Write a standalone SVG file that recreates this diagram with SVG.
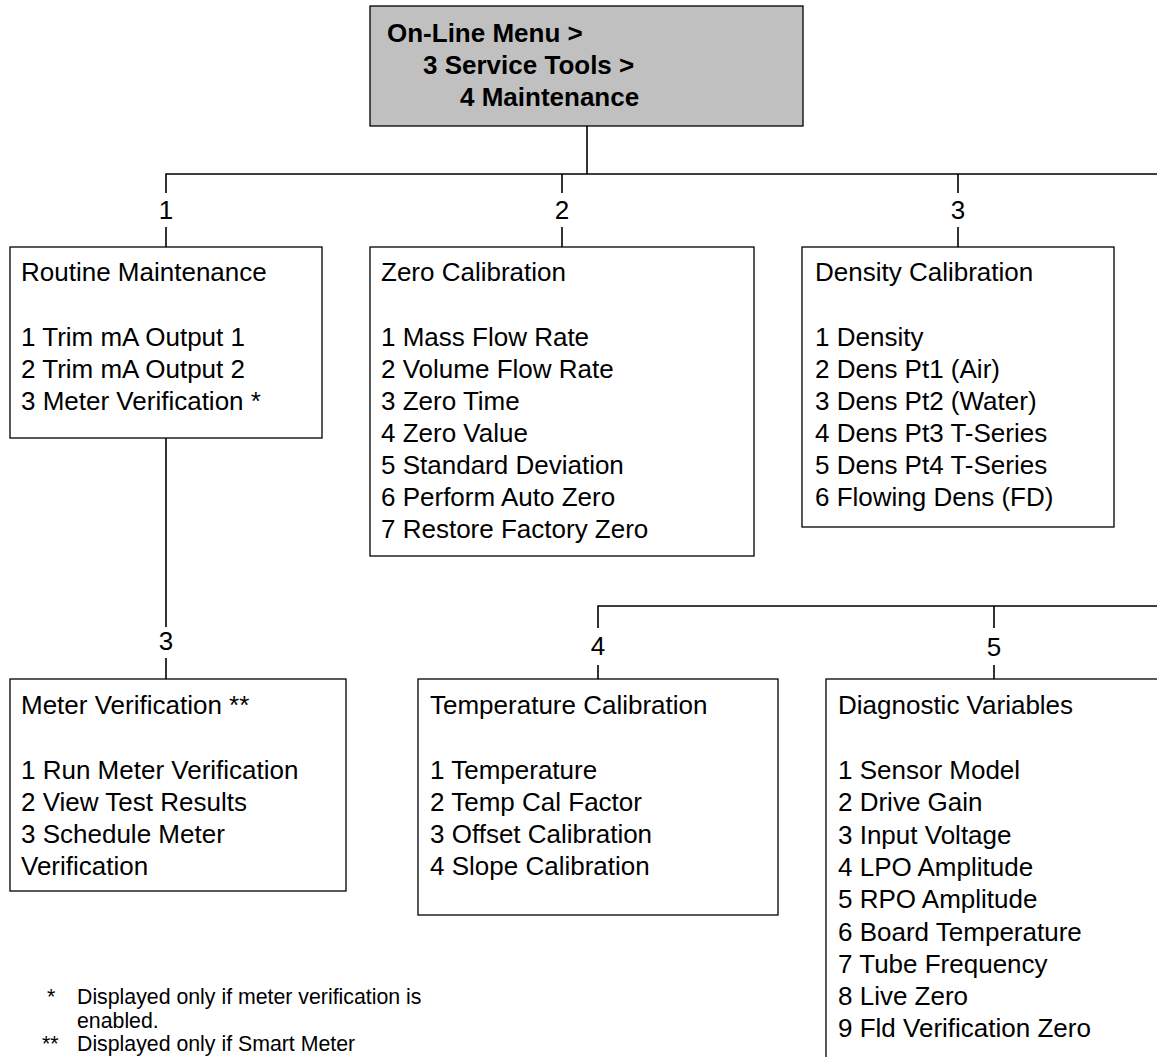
<svg xmlns="http://www.w3.org/2000/svg" width="1157" height="1057" viewBox="0 0 1157 1057">
<style>
.box{fill:#fff;stroke:#000;stroke-width:1.3}
.hdr{fill:#c0c0c0;stroke:#000;stroke-width:1.3}
.t{font-family:"Liberation Sans",Arial,sans-serif;font-size:26px;fill:#000}
.b{font-family:"Liberation Sans",Arial,sans-serif;font-size:26px;font-weight:bold;fill:#000}
.lbl{font-family:"Liberation Sans",Arial,sans-serif;font-size:26px;fill:#000;text-anchor:middle}
.fn{font-family:"Liberation Sans",Arial,sans-serif;font-size:21.3px;fill:#000}
.c{fill:none;stroke:#000;stroke-width:1.6}
</style>
<rect width="1157" height="1057" fill="#fff"/>
<g id="connectors">
<path class="c" d="M587 126V174M166 193V174H1160M562 174V193M958 174V193M166 227V247M562 227V247M958 227V247"/>
<path class="c" d="M166 438V627M166 658V679"/>
<path class="c" d="M598 628V606H1160M994 606V628M598 665V679M994 665V679"/>
<text class="lbl" x="166" y="218.5">1</text>
<text class="lbl" x="562" y="218.5">2</text>
<text class="lbl" x="958" y="218.5">3</text>
<text class="lbl" x="166" y="650">3</text>
<text class="lbl" x="598" y="655">4</text>
<text class="lbl" x="994" y="656">5</text>
</g>
<g id="maintenance">
<rect class="hdr" x="370" y="6" width="433" height="120"/>
<text class="b" x="387" y="42">On-Line Menu &gt;</text>
<text class="b" x="423" y="74">3 Service Tools &gt;</text>
<text class="b" x="460" y="106">4 Maintenance</text>
</g>
<g id="routine">
<rect class="box" x="10" y="247" width="312" height="191"/>
<text class="t" x="21" y="281">Routine Maintenance</text>
<text class="t" x="21" y="346">1 Trim mA Output 1</text>
<text class="t" x="21" y="378">2 Trim mA Output 2</text>
<text class="t" x="21" y="410">3 Meter Verification *</text>
</g>
<g id="zero">
<rect class="box" x="370" y="247" width="384" height="309"/>
<text class="t" x="381" y="281">Zero Calibration</text>
<text class="t" x="381" y="346">1 Mass Flow Rate</text>
<text class="t" x="381" y="378">2 Volume Flow Rate</text>
<text class="t" x="381" y="410">3 Zero Time</text>
<text class="t" x="381" y="442">4 Zero Value</text>
<text class="t" x="381" y="474">5 Standard Deviation</text>
<text class="t" x="381" y="506">6 Perform Auto Zero</text>
<text class="t" x="381" y="538">7 Restore Factory Zero</text>
</g>
<g id="density">
<rect class="box" x="802" y="247" width="312" height="280"/>
<text class="t" x="815" y="281">Density Calibration</text>
<text class="t" x="815" y="346">1 Density</text>
<text class="t" x="815" y="378">2 Dens Pt1 (Air)</text>
<text class="t" x="815" y="410">3 Dens Pt2 (Water)</text>
<text class="t" x="815" y="442">4 Dens Pt3 T-Series</text>
<text class="t" x="815" y="474">5 Dens Pt4 T-Series</text>
<text class="t" x="815" y="506">6 Flowing Dens (FD)</text>
</g>
<g id="meterverification">
<rect class="box" x="10" y="679" width="336" height="212"/>
<text class="t" x="21" y="714">Meter Verification **</text>
<text class="t" x="21" y="779">1 Run Meter Verification</text>
<text class="t" x="21" y="811">2 View Test Results</text>
<text class="t" x="21" y="843">3 Schedule Meter</text>
<text class="t" x="21" y="875">Verification</text>
</g>
<g id="temperature">
<rect class="box" x="418" y="679" width="360" height="236"/>
<text class="t" x="430" y="714">Temperature Calibration</text>
<text class="t" x="430" y="779">1 Temperature</text>
<text class="t" x="430" y="811">2 Temp Cal Factor</text>
<text class="t" x="430" y="843">3 Offset Calibration</text>
<text class="t" x="430" y="875">4 Slope Calibration</text>
</g>
<g id="diagnostic">
<rect class="box" x="826" y="679" width="345" height="400"/>
<text class="t" x="838" y="714">Diagnostic Variables</text>
<text class="t" x="838" y="779">1 Sensor Model</text>
<text class="t" x="838" y="811.3">2 Drive Gain</text>
<text class="t" x="838" y="843.6">3 Input Voltage</text>
<text class="t" x="838" y="875.9">4 LPO Amplitude</text>
<text class="t" x="838" y="908.2">5 RPO Amplitude</text>
<text class="t" x="838" y="940.5">6 Board Temperature</text>
<text class="t" x="838" y="972.8">7 Tube Frequency</text>
<text class="t" x="838" y="1005.1">8 Live Zero</text>
<text class="t" x="838" y="1037.4">9 Fld Verification Zero</text>
</g>
<g id="footnotes">
<text class="fn" x="47" y="1004">*</text>
<text class="fn" x="77" y="1004">Displayed only if meter verification is</text>
<text class="fn" x="77" y="1028">enabled.</text>
<text class="fn" x="42" y="1051">**</text>
<text class="fn" x="77" y="1051">Displayed only if Smart Meter</text>
</g>
</svg>
